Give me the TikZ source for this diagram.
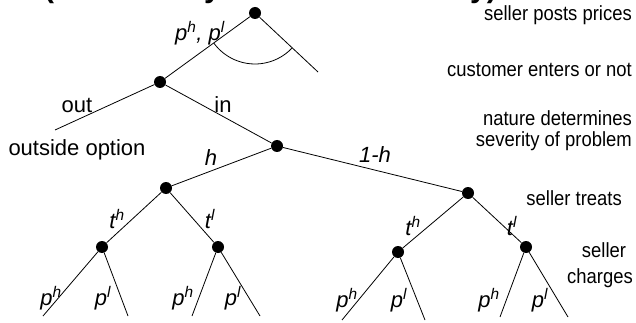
\documentclass[tikz,border=0pt]{standalone}
\usepackage{fontspec}
\setmainfont{Liberation Sans}
\newcommand\sqz[1]{\scalebox{0.9}[1]{#1}}
\begin{document}
\begin{tikzpicture}[x=1pt,y=-1pt,
  dot/.style={circle,fill=black,inner sep=0pt,minimum size=12pt},
  edge/.style={draw=black,line width=0.8pt},
  lab/.style={inner sep=0pt,font=\fontsize{22}{26}\selectfont\itshape},
  plain/.style={inner sep=0pt,font=\fontsize{22}{26}\selectfont},
  side/.style={inner sep=0pt,font=\fontsize{20.5}{24}\selectfont},
  ttl/.style={inner sep=0pt,anchor=base west,font=\fontsize{30}{34}\selectfont\bfseries}]
\useasboundingbox (0,0) rectangle (636,323);
% clipped title fragments
\begin{scope}
\clip (0,0) rectangle (636,323);
\node[ttl] (t1) at (44,-2) {(};
\node[ttl] (t2) at (204,-2) {y};
\node[ttl] (t3) at (470,-2) {y)};
\end{scope}
% decision nodes
\node[dot] (R) at (255,13) {};
\node[dot] (C) at (160,82) {};
\node[dot] (N) at (277,146) {};
\node[dot] (T1) at (166,188) {};
\node[dot] (T2) at (468,193) {};
\node[dot] (S1) at (102,247) {};
\node[dot] (S2) at (218,247) {};
\node[dot] (S3) at (398,252) {};
\node[dot] (S4) at (526,247) {};
% free ends
\coordinate (Rr) at (318,72);
\coordinate (O) at (55,130);
\coordinate (L1) at (43,316);
\coordinate (L2) at (128,316);
\coordinate (L3) at (192,316);
\coordinate (L4) at (260,316);
\coordinate (L5) at (342,320);
\coordinate (L6) at (425,320);
\coordinate (L7) at (500,317);
\coordinate (L8) at (568,317);
% connectors
\draw[edge] (R) -- (C);
\draw[edge] (R) -- (Rr);
\draw[edge] (C) -- (O);
\draw[edge] (C) -- (N);
\draw[edge] (N) -- (T1);
\draw[edge] (N) -- (T2);
\draw[edge] (T1) -- (S1);
\draw[edge] (T1) -- (S2);
\draw[edge] (T2) -- (S3);
\draw[edge] (T2) -- (S4);
\draw[edge] (S1) -- (L1);
\draw[edge] (S1) -- (L2);
\draw[edge] (S2) -- (L3);
\draw[edge] (S2) -- (L4);
\draw[edge] (S3) -- (L5);
\draw[edge] (S3) -- (L6);
\draw[edge] (S4) -- (L7);
\draw[edge] (S4) -- (L8);
% information arc
\draw[edge] (R.center) ++(216:51pt) arc[start angle=216,end angle=317,radius=51pt];
% branch labels
\node[lab] (lp) at (200,33) {p\textsuperscript{h}, p\textsuperscript{l}};
\node[plain] (lout) at (77,105) {out};
\node[plain] (lin) at (223,105) {in};
\node[plain] (lopt) at (77,150) {outside option};
\node[lab] (lh) at (211,158) {h};
\node[lab] (l1h) at (375,155) {1-h};
\node[lab] (lt1) at (117,219) {t\textsuperscript{h}};
\node[lab] (lt2) at (210,219) {t\textsuperscript{l}};
\node[lab] (lt3) at (413,226) {t\textsuperscript{h}};
\node[lab] (lt4) at (512,226) {t\textsuperscript{l}};
\node[lab] (lp1) at (51,298) {p\textsuperscript{h}};
\node[lab] (lp2) at (103,298) {p\textsuperscript{l}};
\node[lab] (lp3) at (183,298) {p\textsuperscript{h}};
\node[lab] (lp4) at (233,298) {p\textsuperscript{l}};
\node[lab] (lp5) at (347,300) {p\textsuperscript{h}};
\node[lab] (lp6) at (399,300) {p\textsuperscript{l}};
\node[lab] (lp7) at (489,300) {p\textsuperscript{h}};
\node[lab] (lp8) at (540,300) {p\textsuperscript{l}};
% stage descriptions
\node[side,anchor=east] (d1) at (632,15) {\sqz{seller posts prices}};
\node[side,anchor=east] (d2) at (632,70) {\sqz{customer enters or not}};
\node[side,anchor=east] (d3) at (632,118) {\sqz{nature determines}};
\node[side,anchor=east] (d4) at (632,141) {\sqz{severity of problem}};
\node[side,anchor=east] (d5) at (622,198) {\sqz{seller treats}};
\node[side] (d6) at (604,250) {\sqz{seller}};
\node[side] (d7) at (600,278) {\sqz{charges}};
\end{tikzpicture}
\end{document}
